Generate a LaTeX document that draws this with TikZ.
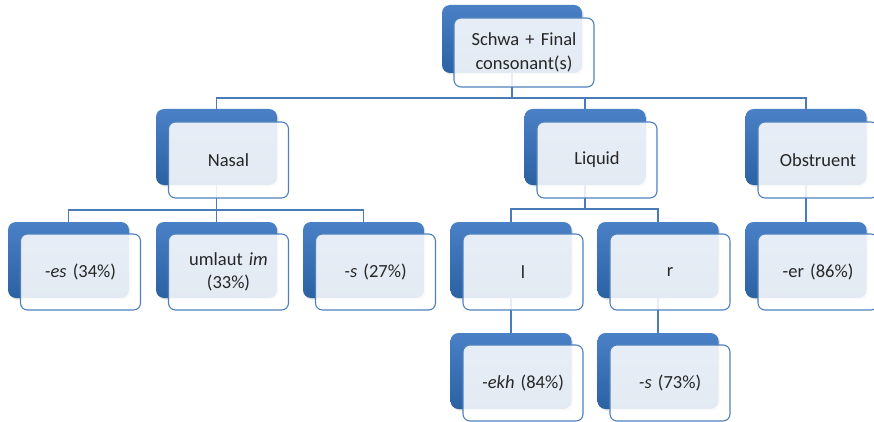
\documentclass[tikz,border=0pt]{standalone}
\usepackage{fontspec}
\setmainfont{Carlito}
\usetikzlibrary{shadows,backgrounds}
\definecolor{backtop}{HTML}{4A80C6}
\definecolor{backbot}{HTML}{2A62A2}
\definecolor{frontline}{HTML}{4F81BD}
\definecolor{connc}{HTML}{4A7BB8}
\definecolor{txt}{HTML}{262626}
\tikzset{
 backbox/.style={rounded corners=8pt, minimum width=121pt, minimum height=76pt, inner sep=0pt,
   top color=backtop, bottom color=backbot, draw=none,
   drop shadow={shadow xshift=1.5pt, shadow yshift=-1.5pt, opacity=0.25}},
 frontbox/.style={rounded corners=7pt, minimum width=120pt, minimum height=76pt, inner sep=2pt,
   fill=white, fill opacity=0.87, text opacity=1, draw=frontline, draw opacity=1, line width=1.1pt,
   text=txt, font=\fontsize{18.5pt}{23.5pt}\selectfont, align=center, text width=112pt},
 connline/.style={draw=connc, line width=1.5pt}
}
\begin{document}
\begin{tikzpicture}[x=1pt,y=-1pt]
\useasboundingbox (0,0) rectangle (874,422);
\clip (0,0) rectangle (874,422);
\coordinate (bar1) at (0,98);
\coordinate (bar2) at (0,210);
\coordinate (bar3) at (0,209);
% top
\node[backbox, minimum width=140pt, minimum height=68pt] (schwaB) at (512,39) {};
\node[frontbox, minimum width=140pt, minimum height=69pt, text width=132pt] (schwa) at (524,52.5) {Schwa + Final\\consonant(s)};
% row 2
\node[backbox] (nasalB) at (216.5,147) {};
\node[frontbox] (nasal) at (228.5,160) {Nasal};
\node[backbox] (liquidB) at (585,147) {};
\node[frontbox] (liquid) at (597,160) {Liquid};
\node[backbox] (obstB) at (806,147) {};
\node[frontbox] (obst) at (818,160) {Obstruent};
% row 3
\node[backbox] (esB) at (68.5,260) {};
\node[frontbox] (es) at (80.5,272) {\textit{-es} (34\%)};
\node[backbox] (umlB) at (216.5,260) {};
\node[frontbox] (uml) at (228.5,272) {umlaut \textit{im}\\(33\%)};
\node[backbox] (sB) at (363.5,260) {};
\node[frontbox] (s) at (375.5,272) {\textit{-s} (27\%)};
\node[backbox] (lB) at (511,260) {};
\node[frontbox] (l) at (523,272) {l};
\node[backbox] (rB) at (658,260) {};
\node[frontbox] (r) at (670,272) {r};
\node[backbox] (erB) at (806,260) {};
\node[frontbox] (er) at (818,272) {-er (86\%)};
% row 4
\node[backbox] (ekhB) at (511,371) {};
\node[frontbox] (ekh) at (523,383) {\textit{-ekh} (84\%)};
\node[backbox] (sstB) at (658,371) {};
\node[frontbox] (sst) at (670,383) {\textit{-s} (73\%)};
% connectors
\begin{scope}[on background layer]
\draw[connline] (schwaB.center) -- (schwaB.center |- bar1) -| (nasalB.center);
\draw[connline] (schwaB.center |- bar1) -| (liquidB.center);
\draw[connline] (schwaB.center |- bar1) -| (obstB.center);
\draw[connline] (nasalB.center) -- (nasalB.center |- bar2) -| (esB.center);
\draw[connline] (nasalB.center |- bar2) -| (sB.center);
\draw[connline] (nasalB.center) -- (umlB.center);
\draw[connline] (liquidB.center) -- (liquidB.center |- bar3) -| (lB.center);
\draw[connline] (liquidB.center |- bar3) -| (rB.center);
\draw[connline] (obstB.center) -- (erB.center);
\draw[connline] (lB.center) -- (ekhB.center);
\draw[connline] (rB.center) -- (sstB.center);
\end{scope}
\end{tikzpicture}
\end{document}
